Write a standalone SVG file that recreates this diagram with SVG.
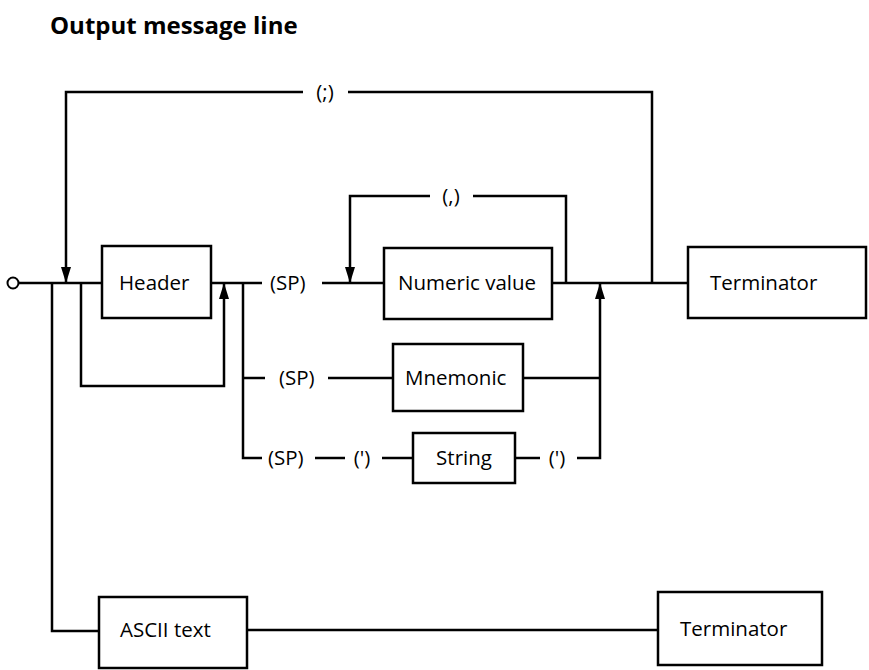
<svg xmlns="http://www.w3.org/2000/svg" width="869" height="670" viewBox="0 0 869 670">
<style>
.ln{fill:none;stroke:#000;stroke-width:2.5}
.bx{fill:#fff;stroke:#000;stroke-width:2.5}
.t{font-family:"Open Sans","Liberation Sans",sans-serif;font-size:20.5px;fill:#000}
.m{text-anchor:middle}
.ttl{font-family:"Open Sans","Liberation Sans",sans-serif;font-size:24px;font-weight:bold;fill:#000}
</style>
<defs>
<marker id="ah" markerUnits="userSpaceOnUse" markerWidth="16" markerHeight="10" viewBox="0 0 16 10" refX="16" refY="5" orient="auto"><path d="M0,0 L16,5 L0,10 Z" fill="#000"/></marker>
</defs>
<rect width="869" height="670" fill="#fff"/>
<text class="ttl" x="50" y="34">Output message line</text>
<g id="connectors">
<circle cx="13" cy="283" r="5.5" fill="#fff" stroke="#000" stroke-width="2"/>
<path class="ln" d="M19,283 H102"/>
<path class="ln" d="M211,283 H262"/>
<path class="ln" d="M322,283 H384"/>
<path class="ln" d="M552,283 H688"/>
<path class="ln" d="M652,283 V92 H348"/>
<path class="ln" d="M303,92 H66 V283" marker-end="url(#ah)"/>
<path class="ln" d="M566,283 V196 H473"/>
<path class="ln" d="M430,196 H350 V283" marker-end="url(#ah)"/>
<path class="ln" d="M81,283 V386 H224 V283" marker-end="url(#ah)"/>
<path class="ln" d="M243,283 V458 H262"/>
<path class="ln" d="M243,378 H265"/>
<path class="ln" d="M328,378 H393"/>
<path class="ln" d="M523,378 H600"/>
<path class="ln" d="M315,458 H345"/>
<path class="ln" d="M382,458 H413"/>
<path class="ln" d="M515,458 H540"/>
<path class="ln" d="M577,458 H600 V283" marker-end="url(#ah)"/>
<path class="ln" d="M52,283 V631 H99"/>
<path class="ln" d="M247,630 H658"/>
<text class="t m" x="325" y="99">(;)</text>
<text class="t m" x="451" y="203">(,)</text>
<text class="t" x="270" y="290">(SP)</text>
<text class="t" x="279" y="385">(SP)</text>
<text class="t" x="268" y="465">(SP)</text>
<text class="t m" x="362" y="465">(')</text>
<text class="t m" x="557" y="465">(')</text>
</g>
<g id="header"><rect class="bx" x="102" y="246" width="109" height="72"/><text class="t" x="119" y="290">Header</text></g>
<g id="numeric"><rect class="bx" x="384" y="248" width="168" height="71"/><text class="t" x="398" y="290">Numeric value</text></g>
<g id="terminator1"><rect class="bx" x="688" y="247" width="178" height="71"/><text class="t" x="710" y="290">Terminator</text></g>
<g id="mnemonic"><rect class="bx" x="393" y="344" width="130" height="67"/><text class="t" x="405" y="385">Mnemonic</text></g>
<g id="string"><rect class="bx" x="413" y="433" width="102" height="50"/><text class="t m" x="464" y="465">String</text></g>
<g id="ascii"><rect class="bx" x="99" y="597" width="148" height="71"/><text class="t" x="120" y="637">ASCII text</text></g>
<g id="terminator2"><rect class="bx" x="658" y="592" width="164" height="73"/><text class="t" x="680" y="636">Terminator</text></g>
</svg>
